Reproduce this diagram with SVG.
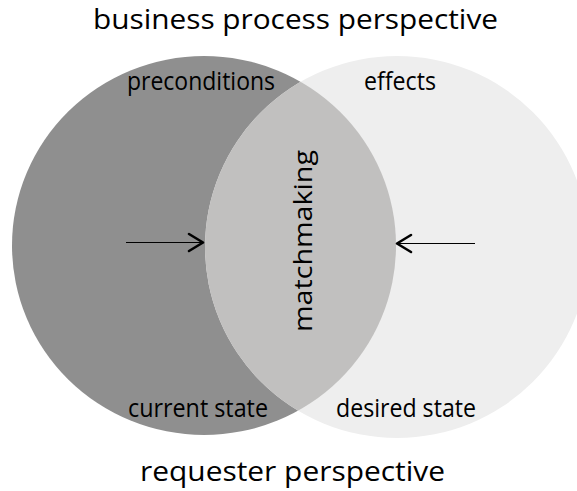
<svg xmlns="http://www.w3.org/2000/svg" width="577" height="491" viewBox="0 0 577 491">
  <style>
    .t { font-family: "Open Sans", Lato, "Liberation Sans", sans-serif; fill: #000; }
    .title { font-size: 27px; }
    .lbl { font-size: 25px; }
    .shaft { stroke: #000; stroke-width: 1; fill: none; }
    .head { stroke: #000; stroke-width: 2.6; fill: none; stroke-linecap: round; stroke-linejoin: round; }
  </style>
  <defs>
    <clipPath id="clipLeft">
      <ellipse cx="204" cy="245.5" rx="192" ry="189.5"/>
    </clipPath>
  </defs>
  <rect width="577" height="491" fill="#ffffff"/>

  <g id="current-state-set">
    <ellipse cx="204" cy="245.5" rx="192" ry="189.5" fill="#8f8f8f"/>
  </g>
  <g id="desired-state-set">
    <ellipse cx="397" cy="247" rx="192" ry="191" fill="#eeeeee"/>
  </g>
  <g id="matchmaking">
    <ellipse cx="397" cy="247" rx="192" ry="191" fill="#c1c0bf" clip-path="url(#clipLeft)"/>
    <text class="t lbl" transform="translate(312,241) rotate(-90)" text-anchor="middle" font-size="26" textLength="182" lengthAdjust="spacingAndGlyphs">matchmaking</text>
  </g>

  <g id="connectors">
    <line class="shaft" x1="126" y1="242.5" x2="202" y2="242.5"/>
    <polyline class="head" points="189,234 203,242.5 189,251"/>
    <line class="shaft" x1="475" y1="243.5" x2="398" y2="243.5"/>
    <polyline class="head" points="411,235 397,243.5 411,252"/>
  </g>

  <g id="labels">
    <text class="t title" x="93" y="29" textLength="405" lengthAdjust="spacingAndGlyphs">business process perspective</text>
    <text class="t title" x="140" y="481" textLength="305" lengthAdjust="spacingAndGlyphs">requester perspective</text>
    <text class="t lbl" x="127" y="90" textLength="148" lengthAdjust="spacingAndGlyphs">preconditions</text>
    <text class="t lbl" x="364" y="90" textLength="72" lengthAdjust="spacingAndGlyphs">effects</text>
    <text class="t lbl" x="128" y="417" textLength="140" lengthAdjust="spacingAndGlyphs">current state</text>
    <text class="t lbl" x="336" y="417" textLength="140" lengthAdjust="spacingAndGlyphs">desired state</text>
  </g>
</svg>
